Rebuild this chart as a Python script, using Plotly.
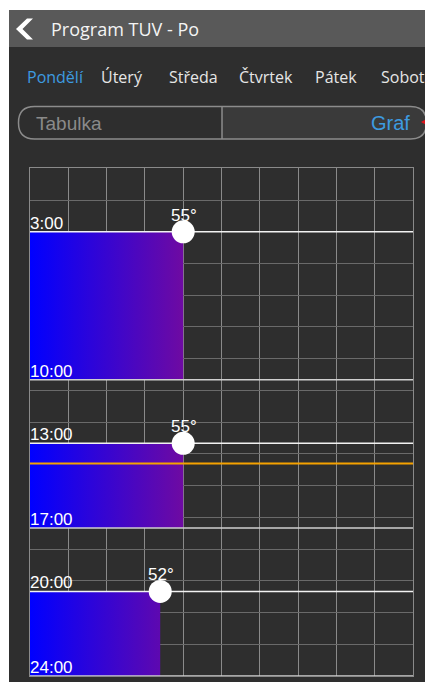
import plotly.graph_objects as go

OFF = 8  # page body margin: figure origin sits at (8, 8) of the window
W, H = 433 - OFF, 682 - OFF   # figure fits exactly in the window, no scrollbars

# ---- data ----
starts = [3, 13, 20]          # hour the heating slot starts
ends = [10, 17, 24]           # hour the heating slot ends
temps = [55, 55, 52]          # target temperature (°C)
now_hour = 13.95              # current time marker
temp_min, temp_max = 35, 85
days = ["Pondělí", "Úterý", "Středa", "Čtvrtek", "Pátek", "Sobota"]
day_x = [26, 100, 168, 238, 314, 380]
title = "Program TUV - Po"

def px(x):
    return (x - OFF) / W

def py(y):
    return 1 - (y - OFF) / H

fig = go.Figure()

# gradient bars
for s, e, t in zip(starts, ends, temps):
    fig.add_trace(go.Scatter(
        x=[temp_min, t, t, temp_min, temp_min], y=[s, s, e, e, s],
        mode="lines", line=dict(width=0), fill="toself",
        fillgradient=dict(type="horizontal",
                          colorscale=[[0, "#0000ff"], [1, "#6e0aa2"]],
                          start=temp_min, stop=55),
        hoverinfo="skip", showlegend=False))

# end lines
for e in ends:
    fig.add_trace(go.Scatter(x=[temp_min, temp_max], y=[e, e], mode="lines",
                             line=dict(color="#cfcfcf", width=1.5),
                             hoverinfo="skip", showlegend=False))
# start lines
for s in starts:
    fig.add_trace(go.Scatter(x=[temp_min, temp_max], y=[s, s], mode="lines",
                             line=dict(color="#f2f2f2", width=1.5),
                             hoverinfo="skip", showlegend=False))
# current time
fig.add_trace(go.Scatter(x=[temp_min, temp_max], y=[now_hour, now_hour], mode="lines",
                         line=dict(color="#f5a200", width=2),
                         hoverinfo="skip", showlegend=False))
# dots
fig.add_trace(go.Scatter(x=temps, y=starts, mode="markers",
                         marker=dict(size=23, color="white", line=dict(width=0)),
                         hoverinfo="skip", showlegend=False))

annotations = []
for s, e, t in zip(starts, ends, temps):
    annotations.append(dict(x=temp_min, y=s, xref="x", yref="y", text=f"{s}:00",
                            xanchor="left", yanchor="bottom", showarrow=False,
                            xshift=-2, yshift=-3,
                            font=dict(family="Liberation Sans, Arial", size=17, color="white")))
    annotations.append(dict(x=temp_min, y=e, xref="x", yref="y", text=f"{e}:00",
                            xanchor="left", yanchor="bottom", showarrow=False,
                            xshift=-2, yshift=-3,
                            font=dict(family="Liberation Sans, Arial", size=17, color="white")))
    annotations.append(dict(x=t, y=s, xref="x", yref="y", text=f"{t}°",
                            xanchor="center", yanchor="bottom", showarrow=False,
                            xshift=1, yshift=5,
                            font=dict(family="Liberation Sans, Arial", size=17, color="white")))

# header title
annotations.append(dict(x=px(49), y=py(29.5), xref="paper", yref="paper", text=title,
                        xanchor="left", yanchor="middle", showarrow=False,
                        font=dict(family="Open Sans", size=18, color="#f4f4f4")))
# day tabs
for i, (d, x) in enumerate(zip(days, day_x)):
    annotations.append(dict(x=px(x - 1), y=py(77), xref="paper", yref="paper", text=d,
                            xanchor="left", yanchor="middle", showarrow=False,
                            font=dict(family="Open Sans", size=16,
                                      color="#3d9be0" if i == 0 else "#e6e6e6")))
# segmented control texts
annotations.append(dict(x=px(34), y=py(123), xref="paper", yref="paper", text="Tabulka",
                        xanchor="left", yanchor="middle", showarrow=False,
                        font=dict(family="Liberation Sans, Arial", size=19, color="#8a8a8a")))
annotations.append(dict(x=px(412), y=py(123), xref="paper", yref="paper", text="Graf",
                        xanchor="right", yanchor="middle", showarrow=False,
                        font=dict(family="Liberation Sans, Arial", size=20, color="#3d9be0")))

def rect(x0, y0, x1, y1, fill, layer="below"):
    return dict(type="rect", xref="paper", yref="paper",
                x0=px(x0), x1=px(x1), y0=py(y1), y1=py(y0),
                fillcolor=fill, line=dict(width=0), layer=layer)

def P(a, b):
    return f"{px(a):.5f},{py(b):.5f}"

def path(points, fill=None, color=None, width=0, layer="above"):
    d = "M " + " L ".join(P(a, b) for a, b in points) + " Z"
    return dict(type="path", xref="paper", yref="paper", path=d,
                fillcolor=fill if fill else "rgba(0,0,0,0)",
                line=dict(color=color if color else "rgba(0,0,0,0)", width=width),
                layer=layer)

def pill(x0, y0, x1, y1, r):
    return ("M " + P(x0 + r, y0) + " L " + P(x1 - r, y0) +
            " Q " + P(x1, y0) + " " + P(x1, y0 + r) +
            " L " + P(x1, y1 - r) +
            " Q " + P(x1, y1) + " " + P(x1 - r, y1) +
            " L " + P(x0 + r, y1) +
            " Q " + P(x0, y1) + " " + P(x0, y1 - r) +
            " L " + P(x0, y0 + r) +
            " Q " + P(x0, y0) + " " + P(x0 + r, y0) + " Z")

def half_pill_right(x0, y0, x1, y1, r):
    return ("M " + P(x0, y0) + " L " + P(x1 - r, y0) +
            " Q " + P(x1, y0) + " " + P(x1, y0 + r) +
            " L " + P(x1, y1 - r) +
            " Q " + P(x1, y1) + " " + P(x1 - r, y1) +
            " L " + P(x0, y1) + " Z")

shapes = [
    rect(9, 10, 433, 682, "#2e2e2e"),
    rect(9, 10, 433, 47, "#595959"),
    dict(type="path", xref="paper", yref="paper",
         path=half_pill_right(222, 106.5, 426.5, 139, 16),
         fillcolor="#3a3a3a", line=dict(width=0), layer="below"),
    dict(type="path", xref="paper", yref="paper",
         path=pill(18.5, 106.5, 426.5, 139, 16),
         fillcolor="rgba(0,0,0,0)", line=dict(color="#8c8c8c", width=1.5), layer="above"),
    dict(type="line", xref="paper", yref="paper", x0=px(222), x1=px(222),
         y0=py(106.5), y1=py(139), line=dict(color="#8c8c8c", width=1.5), layer="above"),
    # back chevron
    path([(16, 29), (27, 18.5), (33, 18.5), (22.5, 29), (33, 39.5), (27, 39.5)], fill="white"),
    # red pointer
    path([(421, 122), (433, 115.5), (433, 128.5)], fill="#e0141b"),
]

fig.update_layout(
    width=W, height=H, autosize=False,
    margin=dict(l=0, r=0, t=0, b=0),
    paper_bgcolor="white", plot_bgcolor="rgba(0,0,0,0)",
    showlegend=False,
    xaxis=dict(domain=[px(30), px(413)], range=[temp_min, temp_max], dtick=5, tick0=35,
               showgrid=True, gridcolor="#8a8a8a", gridwidth=1, zeroline=False,
               showticklabels=False, ticks="", showline=True, mirror=True,
               linecolor="#8a8a8a", linewidth=1, fixedrange=True),
    yaxis=dict(domain=[py(676), py(168.3)], range=[24, 0], dtick=1.5, tick0=0,
               showgrid=True, gridcolor="#6a6a6a", gridwidth=1, zeroline=False,
               showticklabels=False, ticks="", showline=True, mirror=True,
               linecolor="#8a8a8a", linewidth=1, fixedrange=True),
    annotations=annotations,
    shapes=shapes,
)

fig.write_html("out.html", config={"displayModeBar": False})
